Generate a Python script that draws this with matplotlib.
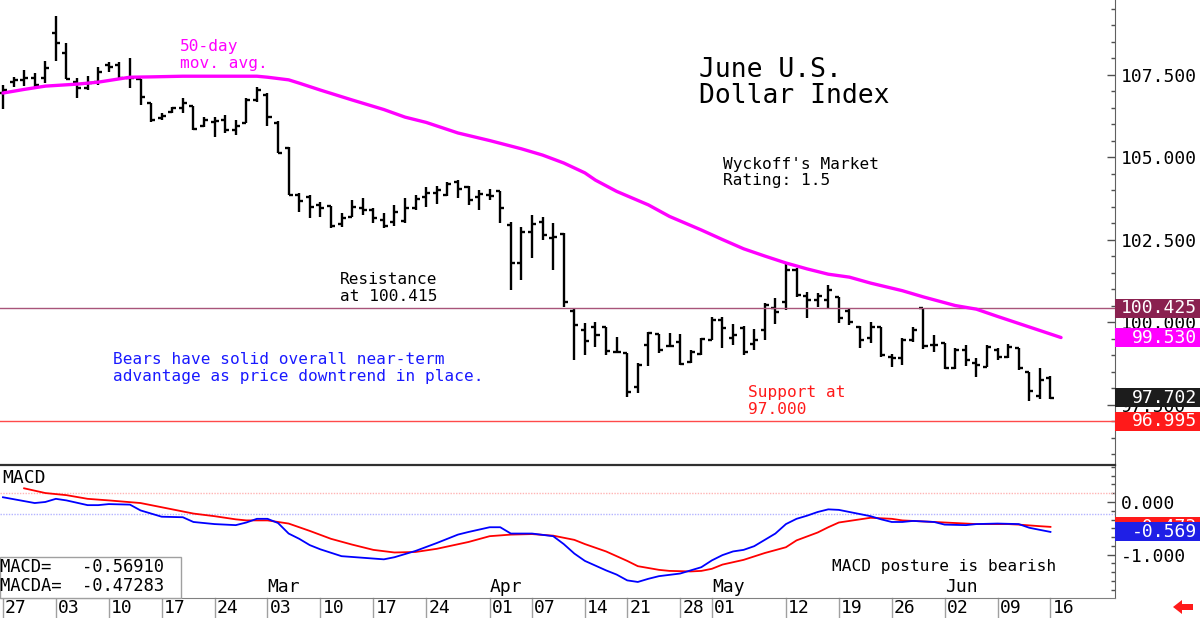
import matplotlib
matplotlib.use('Agg')
import matplotlib.pyplot as plt
import matplotlib.transforms as mtransforms
from matplotlib.patches import Rectangle, Polygon
from matplotlib.ticker import MultipleLocator, FormatStrFormatter
import numpy as np
import pandas as pd

plt.rcParams['font.family'] = ['DejaVu Sans Mono', 'DejaVu Sans']

# trading days, ICE closed on Good Friday
days = pd.bdate_range('2025-01-27', '2025-06-16')
days = days[days != pd.Timestamp('2025-04-18')]

opens = [106.94, 107.27, 107.33, 107.39, 107.39, 108.76, 108.15, 107.27, 107.09, 107.27,
         107.79, 107.79, 107.39, 107.36, 106.64, 106.18, 106.36, 106.48, 106.55, 105.94,
         106.06, 106.12, 105.82, 106.03, 106.73, 106.88, 106.03, 105.27, 103.85, 103.79,
         103.55, 103.52, 102.97, 103.18, 103.45, 103.39, 103.09, 103.03, 103.06, 103.45,
         103.79, 103.91, 103.85, 104.24, 104.09, 103.79, 103.85, 103.97, 102.94, 101.79,
         102.73, 103.03, 102.55, 102.67, 100.33, 99.76, 99.85, 99.85, 99.09, 99.06,
         98.03, 99.30, 99.64, 99.27, 99.39, 98.79, 99.03, 99.45, 100.06, 99.52,
         99.82, 99.33, 99.76, 100.42, 100.61, 101.58, 100.79, 100.67, 100.67, 100.76,
         100.33, 99.85, 99.52, 99.85, 98.94, 98.91, 99.45, 100.42, 99.30, 99.36,
         98.61, 99.15, 98.76, 98.64, 99.15, 98.94, 99.21, 98.48, 97.76, 98.30]
highs = [107.18, 107.42, 107.64, 107.55, 107.91, 109.27, 108.45, 107.39, 107.45, 107.73,
         107.88, 107.88, 108.00, 107.36, 106.64, 106.33, 106.52, 106.79, 106.55, 106.21,
         106.21, 106.27, 106.12, 106.79, 107.12, 106.94, 106.09, 105.30, 103.91, 103.85,
         103.64, 103.52, 103.30, 103.70, 103.76, 103.45, 103.30, 103.55, 103.76, 103.85,
         104.09, 104.12, 104.24, 104.30, 104.12, 104.00, 104.03, 103.97, 103.03, 102.88,
         103.24, 103.18, 103.00, 102.70, 100.42, 99.97, 100.00, 99.85, 99.55, 99.06,
         98.76, 99.70, 99.64, 99.67, 99.64, 99.15, 99.52, 100.15, 100.15, 99.94,
         99.88, 99.79, 100.58, 100.73, 101.79, 101.64, 100.91, 100.88, 101.12, 100.76,
         100.42, 99.88, 100.00, 99.85, 99.03, 99.52, 99.85, 100.42, 99.61, 99.36,
         99.21, 99.30, 98.91, 99.30, 99.21, 99.33, 99.21, 98.48, 98.61, 98.36]
lows = [106.45, 107.12, 107.15, 107.12, 107.24, 107.91, 107.36, 106.79, 107.03, 107.18,
        107.58, 107.39, 107.09, 106.58, 106.06, 106.12, 106.33, 106.33, 105.82, 105.91,
        105.61, 105.73, 105.67, 106.03, 106.67, 105.94, 105.12, 103.85, 103.33, 103.15,
        103.18, 102.85, 102.88, 103.18, 103.24, 103.00, 102.85, 102.91, 103.00, 103.39,
        103.48, 103.58, 103.82, 103.76, 103.55, 103.39, 103.70, 103.00, 100.97, 101.27,
        101.94, 102.48, 101.58, 100.45, 98.85, 99.00, 99.24, 99.00, 99.06, 97.73,
        97.85, 98.67, 99.06, 99.24, 98.70, 98.76, 99.00, 99.45, 99.21, 99.30,
        99.00, 99.15, 99.45, 99.94, 100.36, 100.76, 100.12, 100.45, 100.42, 99.97,
        99.91, 99.21, 99.36, 98.94, 98.64, 98.70, 99.39, 99.18, 99.09, 98.58,
        98.58, 98.67, 98.33, 98.64, 98.85, 98.91, 98.55, 97.61, 97.67, 97.67]
closes = [107.03, 107.33, 107.39, 107.18, 107.70, 108.45, 107.36, 107.09, 107.24, 107.58,
          107.73, 107.39, 107.39, 106.82, 106.12, 106.24, 106.48, 106.64, 105.85, 106.12,
          106.09, 105.82, 105.94, 106.73, 107.03, 106.21, 105.12, 103.85, 103.67, 103.48,
          103.45, 102.91, 103.15, 103.48, 103.39, 103.15, 102.91, 103.33, 103.45, 103.73,
          103.91, 104.00, 104.18, 104.03, 103.70, 103.88, 103.82, 103.45, 101.79, 102.73,
          102.97, 102.64, 102.58, 100.61, 99.91, 99.42, 99.61, 99.12, 99.09, 97.88,
          98.70, 99.67, 99.15, 99.27, 98.73, 99.09, 99.48, 100.06, 99.82, 99.61,
          99.09, 99.45, 100.52, 100.30, 101.58, 100.82, 100.67, 100.79, 100.97, 100.12,
          100.00, 99.45, 99.85, 99.00, 98.91, 99.45, 99.76, 99.27, 99.30, 98.61,
          99.15, 98.85, 98.70, 99.24, 98.94, 99.24, 98.61, 97.91, 98.24, 97.70]

# 50-day moving average (bar index, value)
ma_days = [0, 2, 4, 7, 9, 12, 14, 17, 24, 25, 27, 28, 30, 33, 36, 38, 40, 43, 46, 49,
           51, 53, 55, 56, 58, 61, 63, 66, 68, 70, 72, 74, 76, 78, 80, 82, 85, 87, 90,
           92, 94, 97, 100]
ma_vals = [106.94, 107.05, 107.15, 107.21, 107.27, 107.42, 107.43, 107.45, 107.45,
           107.42, 107.34, 107.24, 107.03, 106.73, 106.44, 106.21, 106.05, 105.73,
           105.50, 105.25, 105.06, 104.82, 104.52, 104.30, 103.96, 103.55, 103.20,
           102.79, 102.50, 102.22, 102.00, 101.79, 101.61, 101.45, 101.36, 101.18,
           100.95, 100.76, 100.50, 100.39, 100.17, 99.85, 99.53]

# MACD (blue) and its average (red)
macd_days = [0, 3, 4, 5, 6, 8, 9, 10, 12, 13, 15, 17, 18, 20, 22, 23, 24, 25, 26, 27,
             28, 29, 30, 32, 34, 36, 37, 39, 41, 43, 44, 46, 47, 48, 50, 52, 53, 54, 55,
             57, 58, 59, 60, 61, 62, 64, 65, 66, 67, 68, 69, 70, 71, 72, 73, 74, 75, 76,
             77, 78, 79, 80, 81, 82, 83, 84, 85, 86, 88, 89, 91, 92, 94, 96, 97, 98, 99]
macd_vals = [0.09, -0.02, 0.00, 0.06, 0.03, -0.06, -0.06, -0.04, -0.05, -0.16, -0.28,
             -0.29, -0.38, -0.42, -0.44, -0.39, -0.32, -0.32, -0.40, -0.60, -0.70,
             -0.82, -0.90, -1.03, -1.06, -1.09, -1.05, -0.93, -0.78, -0.62, -0.57,
             -0.48, -0.48, -0.60, -0.60, -0.65, -0.80, -0.98, -1.12, -1.30, -1.38,
             -1.49, -1.52, -1.46, -1.41, -1.36, -1.30, -1.24, -1.11, -1.01, -0.94,
             -0.91, -0.84, -0.72, -0.60, -0.42, -0.32, -0.26, -0.19, -0.14, -0.15,
             -0.19, -0.23, -0.27, -0.33, -0.38, -0.38, -0.36, -0.38, -0.43, -0.44,
             -0.42, -0.41, -0.42, -0.49, -0.53, -0.569]
macda_days = [2, 4, 6, 8, 10, 13, 15, 18, 20, 22, 23, 25, 27, 29, 31, 33, 35, 37, 39,
              41, 44, 46, 48, 50, 52, 54, 55, 57, 59, 60, 62, 63, 65, 66, 67, 68, 70,
              72, 74, 75, 77, 78, 79, 81, 82, 84, 85, 87, 89, 91, 92, 95, 96, 98, 99]
macda_vals = [0.26, 0.17, 0.13, 0.06, 0.03, -0.02, -0.10, -0.22, -0.27, -0.33, -0.35,
              -0.35, -0.41, -0.55, -0.70, -0.81, -0.91, -0.96, -0.95, -0.89, -0.76,
              -0.65, -0.62, -0.61, -0.64, -0.72, -0.80, -0.94, -1.12, -1.22, -1.29,
              -1.31, -1.32, -1.31, -1.27, -1.19, -1.10, -0.97, -0.86, -0.73, -0.58,
              -0.48, -0.39, -0.33, -0.30, -0.32, -0.35, -0.37, -0.39, -0.41, -0.42,
              -0.42, -0.43, -0.46, -0.473]

tick_dates = ['2025-01-27', '2025-02-03', '2025-02-10', '2025-02-17', '2025-02-24',
              '2025-03-03', '2025-03-10', '2025-03-17', '2025-03-24', '2025-04-01',
              '2025-04-07', '2025-04-14', '2025-04-21', '2025-04-28', '2025-05-01',
              '2025-05-12', '2025-05-19', '2025-05-26', '2025-06-02', '2025-06-09',
              '2025-06-16']
month_starts = ['2025-03-03', '2025-04-01', '2025-05-01', '2025-06-02']

resistance = 100.425
support = 96.995
last_close = 97.702
last_ma = 99.530
macd_last = -0.569
macda_last = -0.473
macd_hi_ref = 0.17
macd_lo_ref = -0.23

W, H = 1200, 618


def fx(x):
    return x / W


def fy(y):
    return 1 - y / H


fig = plt.figure(figsize=(W / 100, H / 100), dpi=100)
ax = fig.add_axes([0, fy(465), fx(1115), fy(0) - fy(465)])
ax2 = fig.add_axes([0, fy(598), fx(1115), fy(465) - fy(598)])

idx = np.arange(len(days))
pos = {d: i for i, d in enumerate(days)}

# price bars
ax.vlines(idx, lows, highs, color='black', lw=1.7)
ax.hlines(opens, idx - 0.38, idx, color='black', lw=1.7)
ax.hlines(closes, idx, idx + 0.38, color='black', lw=1.7)
ax.plot(ma_days, ma_vals, color='#ff00ff', lw=2.4, solid_capstyle='round',
        solid_joinstyle='round', zorder=3)
ax.axhline(resistance, color='#a8547a', lw=1)
ax.axhline(support, color='#ff4a4a', lw=1)

ax.set_xlim(-0.28, 105.1)
ax.set_ylim(95.667, 109.76)
ax2.set_xlim(-0.28, 105.1)
ax2.set_ylim(-1.825, 0.703)

# macd panel
ax2.axhline(macd_hi_ref, color='#ffb4b4', lw=1, ls=(0, (1, 1)))
ax2.axhline(macd_lo_ref, color='#b4b4ff', lw=1, ls=(0, (1, 1)))
ax2.plot(macda_days, macda_vals, color='#ff0000', lw=1.3)
ax2.plot(macd_days, macd_vals, color='#0000ff', lw=1.3)

for a, major, minor in [(ax, 2.5, 0.5), (ax2, 1.0, 1 / 6)]:
    a.yaxis.tick_right()
    a.yaxis.set_major_locator(MultipleLocator(major))
    a.yaxis.set_minor_locator(MultipleLocator(minor))
    a.yaxis.set_major_formatter(FormatStrFormatter('%.3f'))
    a.tick_params(axis='y', which='major', direction='in', length=6, width=1,
                  color='#505050', labelsize=13, pad=4)
    a.tick_params(axis='y', which='minor', direction='in', length=3, width=1,
                  color='#505050')
    a.tick_params(axis='x', bottom=False, labelbottom=False)
    a.spines['left'].set_visible(False)
    a.spines['right'].set_color('#606060')

ax.spines['top'].set_visible(False)
ax.spines['bottom'].set_visible(False)
ax2.spines['top'].set_color('#303030')
ax2.spines['top'].set_linewidth(1.6)
ax2.spines['bottom'].set_color('#808080')

# value boxes on the right axis, later ones sit on top
box_z = [4.0]


def value_box(a, val, unit, face, text):
    tr = mtransforms.blended_transform_factory(a.transAxes, a.transData)
    h = 19 / unit
    z = box_z[0]
    a.add_patch(Rectangle((1.0, val - h / 2), 85 / 1115, h, transform=tr,
                          facecolor=face, edgecolor='none', clip_on=False, zorder=z))
    a.text(1197 / 1115, val, text, transform=tr, ha='right', va='center',
           color='white', fontsize=13, clip_on=False, zorder=z + 0.05)
    box_z[0] += 0.1


value_box(ax, resistance, 33.0, '#8a2150', '%.3f' % resistance)
value_box(ax, last_ma, 33.0, '#ff00ff', '%.3f' % last_ma)
value_box(ax, last_close, 33.0, '#1c1c1c', '%.3f' % last_close)
value_box(ax, support, 33.0, '#ff1a1a', '%.3f' % support)
value_box(ax2, macda_last, 52.6, '#ff1a1a', '%.3f' % macda_last)
value_box(ax2, macd_last, 52.6, '#1f1fe6', '%.3f' % macd_last)

# date row under the macd panel
blend = mtransforms.blended_transform_factory(ax2.transData, ax2.transAxes)
for d in tick_dates:
    i = pos[pd.Timestamp(d)]
    ax2.plot([i, i], [0, -0.16], transform=blend, color='#a0a0a0', lw=1, clip_on=False)
    ax2.text(i + 0.2, -0.075, pd.Timestamp(d).strftime('%d'), transform=blend,
             ha='left', va='center', fontsize=13, clip_on=False)
for d in month_starts:
    i = pos[pd.Timestamp(d)]
    ax2.text(i, 0.015, pd.Timestamp(d).strftime('%b'), transform=blend,
             ha='left', va='bottom', fontsize=13)


def label(x, y, lines, gap, **kw):
    for k, s in enumerate(lines):
        fig.text(fx(x), fy(y + k * gap), s, ha='left', va='center', **kw)


label(180, 47, ['50-day', 'mov. avg.'], 16.5, color='#ff00ff', fontsize=11.6)
label(699, 70, ['June U.S.', 'Dollar Index'], 26, color='black', fontsize=19)
label(723, 164, ["Wyckoff's Market", 'Rating: 1.5'], 17, color='black', fontsize=11.6)
label(340, 280, ['Resistance', 'at 100.415'], 16.5, color='black', fontsize=11.6)
label(113, 360, ['Bears have solid overall near-term',
                 'advantage as price downtrend in place.'], 17, color='#1a1aff',
      fontsize=11.6)
label(748, 393, ['Support at', '97.000'], 16.5, color='#ff1a1a', fontsize=11.6)
label(832, 566, ['MACD posture is bearish'], 17, color='black', fontsize=11.6)
label(2, 478, ['MACD'], 17, color='black', fontsize=13)

# macd readout box
fig.patches.append(Rectangle((fx(0), fy(598)), fx(181), fy(557) - fy(598),
                             transform=fig.transFigure, facecolor='white',
                             edgecolor='#a0a0a0', lw=1, zorder=2))
label(0, 567, ['MACD=   %.5f' % -0.56910, 'MACDA=  %.5f' % -0.47283], 19,
      color='black', fontsize=12.3, zorder=3)

# small red arrow at the bottom right
arrow = [(1173, 607), (1182, 600), (1182, 604), (1193, 604), (1193, 610),
         (1182, 610), (1182, 614)]
fig.patches.append(Polygon([(fx(x), fy(y)) for x, y in arrow], closed=True,
                           transform=fig.transFigure, facecolor='#ff1a1a',
                           edgecolor='none'))

fig.savefig('out.png', dpi=100)
